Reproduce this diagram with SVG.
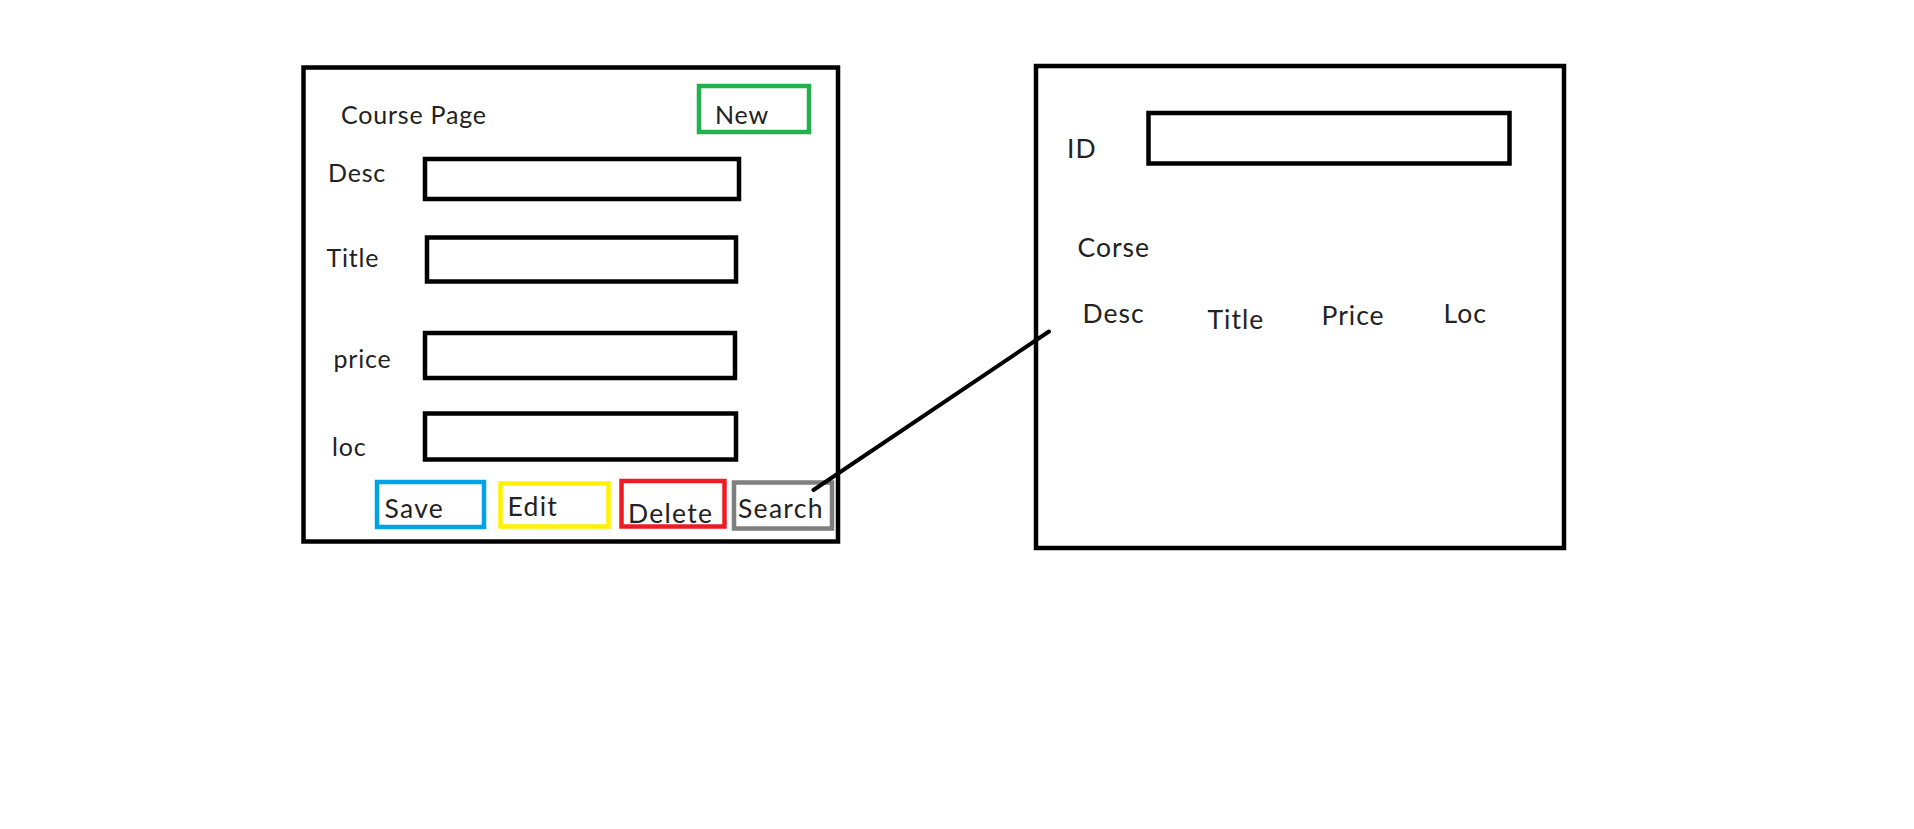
<svg xmlns="http://www.w3.org/2000/svg" width="1914" height="829" viewBox="0 0 1914 829">
<style>
  .frame{fill:none;stroke:#000;stroke-width:4.5}
  .field{fill:none;stroke:#000;stroke-width:4.5}
  .btn{fill:none;stroke-width:4.5}
  text{font-family:Lato,"Open Sans","Liberation Sans",sans-serif;fill:#222;letter-spacing:0.8px}
  .lbl{font-size:25px}
  .big{font-size:26.5px;letter-spacing:1px}
  .bt{letter-spacing:1.3px}
</style>
<rect width="1914" height="829" fill="#fff"/>
<g id="course-page">
  <rect class="frame" x="303.5" y="67.5" width="534.5" height="474"/>
  <text class="lbl" x="341" y="124" font-size="24">Course Page</text>
</g>
<g id="new-button">
  <rect class="btn" stroke="#22B14C" x="699" y="86" width="110" height="46"/>
  <text class="lbl" x="715" y="123.5">New</text>
</g>
<g id="desc-field">
  <text class="lbl" x="328" y="182">Desc</text>
  <rect class="field" x="425" y="159" width="314" height="40"/>
</g>
<g id="title-field">
  <text class="lbl" x="326.5" y="267">Title</text>
  <rect class="field" x="427" y="237.5" width="309" height="44"/>
</g>
<g id="price-field">
  <text class="lbl" x="333.5" y="367.5">price</text>
  <rect class="field" x="425" y="333" width="310" height="45"/>
</g>
<g id="loc-field">
  <text class="lbl" x="332" y="455.5">loc</text>
  <rect class="field" x="425" y="413.5" width="311" height="46"/>
</g>
<g id="save-button">
  <rect class="btn" stroke="#00A2E8" x="377" y="482" width="107" height="45"/>
  <text class="big bt" x="384.5" y="517.5">Save</text>
</g>
<g id="edit-button">
  <rect class="btn" stroke="#FFF200" x="500.5" y="483.5" width="108" height="43"/>
  <text class="big bt" x="507.5" y="516">Edit</text>
</g>
<g id="delete-button">
  <rect class="btn" stroke="#ED1C24" x="621.5" y="481" width="103" height="45.5"/>
  <text class="big bt" x="628" y="522.5">Delete</text>
</g>
<g id="search-button">
  <rect class="btn" stroke="#7F7F7F" x="734" y="482.5" width="98" height="46" stroke-width="5"/>
  <text class="big bt" x="738" y="517.5">Search</text>
</g>
<g id="search-page">
  <rect class="frame" x="1036" y="66" width="528" height="482"/>
  <text class="big" x="1067" y="157.5">ID</text>
  <rect class="field" x="1148.5" y="113" width="361" height="50.5"/>
  <text class="big" x="1077.5" y="256.5">Corse</text>
  <text class="big" x="1082.5" y="322.5">Desc</text>
  <text class="big" x="1207.5" y="328.5">Title</text>
  <text class="big" x="1321.5" y="324.5">Price</text>
  <text class="big" x="1443.5" y="322.5">Loc</text>
</g>
<g id="connectors">
  <line x1="813.5" y1="490" x2="1049" y2="331.5" stroke="#000" stroke-width="4" stroke-linecap="round"/>
</g>
</svg>
